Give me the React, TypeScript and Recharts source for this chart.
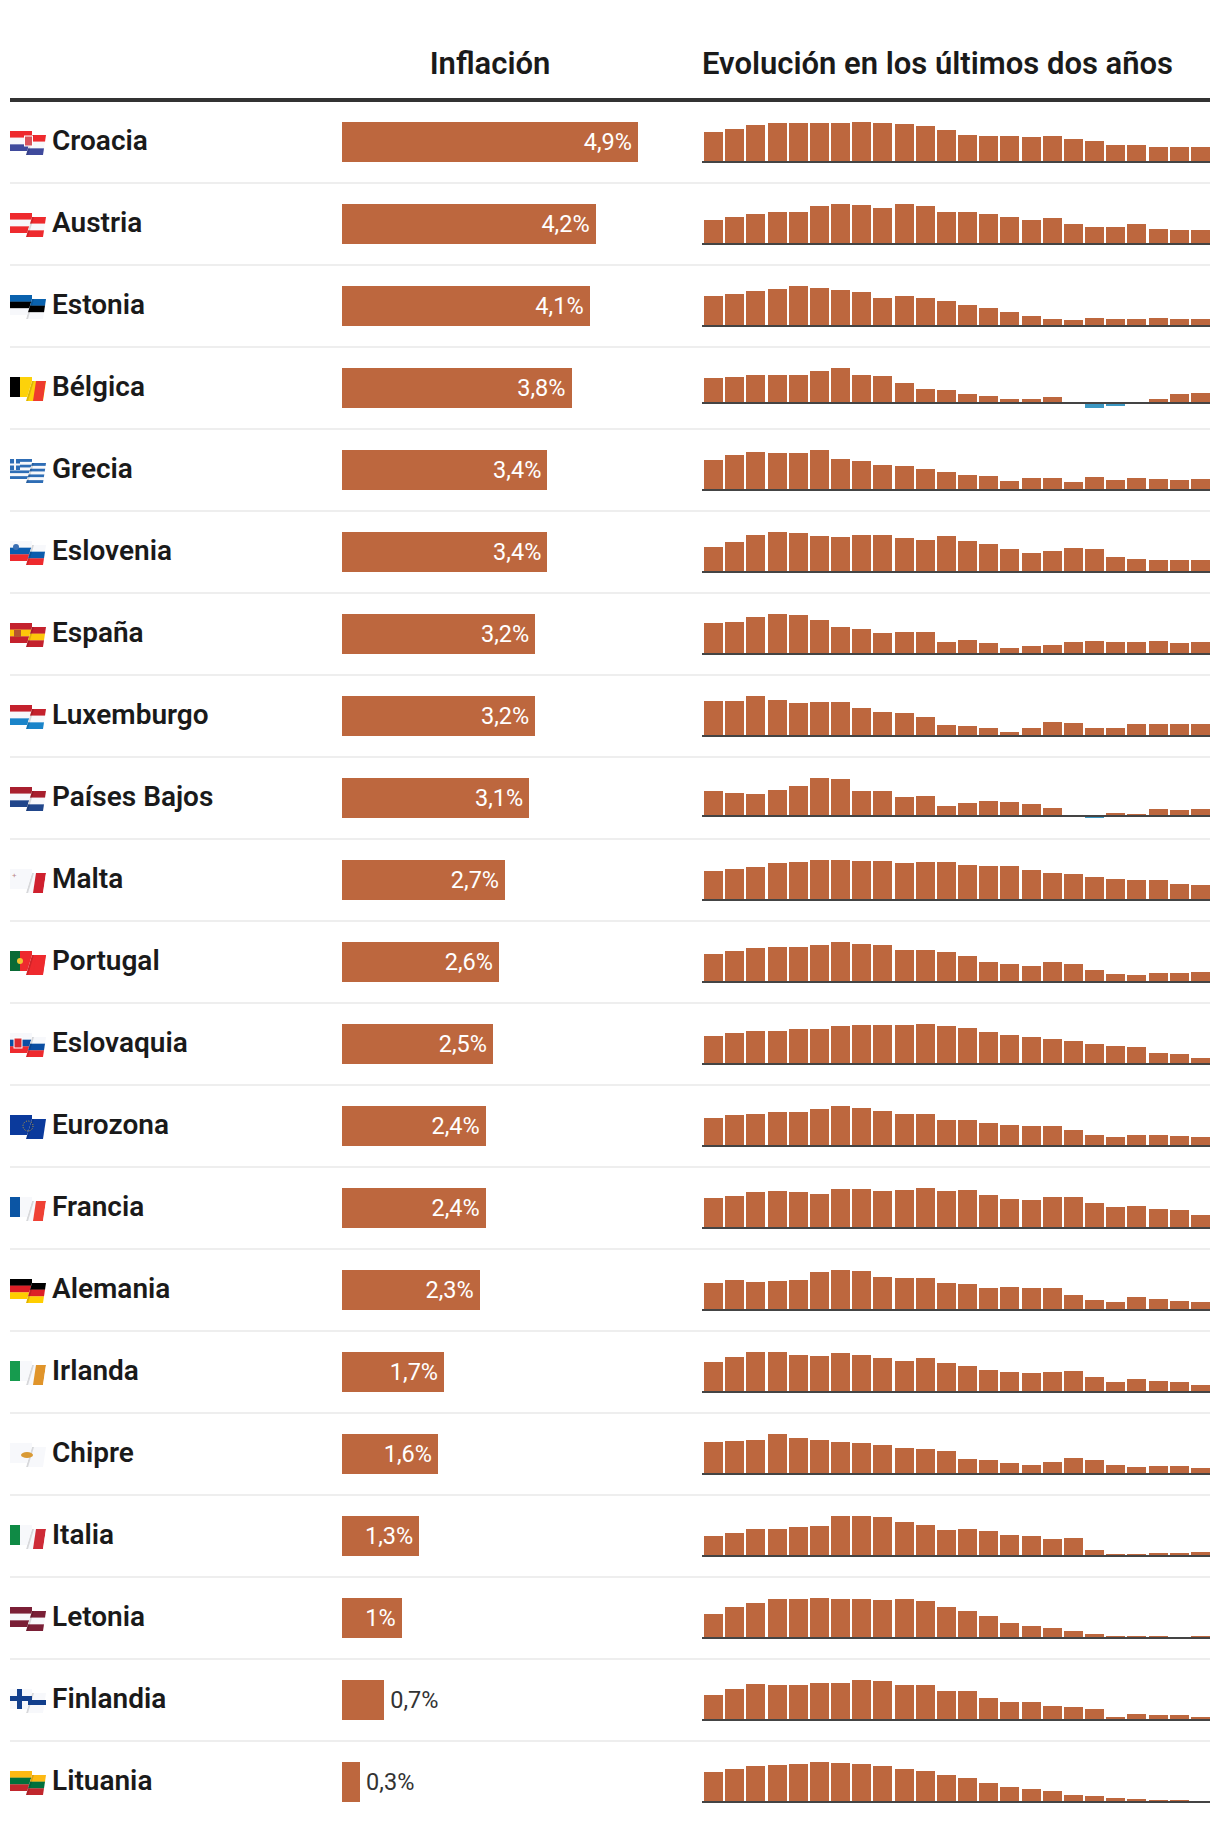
import { Bar, BarChart, Cell, LabelList, ReferenceLine, XAxis, YAxis } from "recharts";

const countries = ["Croacia", "Austria", "Estonia", "Bélgica", "Grecia", "Eslovenia", "España", "Luxemburgo", "Países Bajos", "Malta", "Portugal", "Eslovaquia", "Eurozona", "Francia", "Alemania", "Irlanda", "Chipre", "Italia", "Letonia", "Finlandia", "Lituania"];
const latest = [4.9, 4.2, 4.1, 3.8, 3.4, 3.4, 3.2, 3.2, 3.1, 2.7, 2.6, 2.5, 2.38, 2.38, 2.28, 1.69, 1.59, 1.28, 0.99, 0.7, 0.3];

// ultimos 24 meses por pais
const croacia = [9.8, 10.8, 12.1, 12.7, 12.7, 12.7, 12.7, 13.1, 12.7, 12.4, 11.8, 10.5, 8.8, 8.5, 8.5, 8.2, 8.5, 7.5, 6.9, 5.6, 5.6, 4.9, 4.9, 4.9];
const austria = [7.2, 8.1, 9, 9.6, 9.6, 11.4, 12, 11.7, 10.8, 12, 11.4, 9.6, 9.6, 9, 8.1, 7.2, 7.8, 6, 5.1, 5.1, 6, 4.5, 4.2, 4.2];
const estonia = [17.6, 18.7, 20.5, 21.7, 23.4, 22.3, 21.1, 19.9, 16.4, 17.6, 16.4, 14.6, 12.3, 10.5, 8.2, 5.9, 4.1, 3.5, 4.7, 4.1, 4.1, 4.7, 4.1, 4.1];
const belgica = [9.5, 9.9, 10.6, 10.6, 10.6, 12.2, 13.3, 10.6, 10.3, 7.6, 5.3, 4.9, 3.4, 2.7, 1.5, 1.5, 2.3, 0, -1.9, -1.1, 0, 1.5, 3.4, 3.8];
const grecia = [9.3, 10.8, 11.7, 11.4, 11.4, 12.4, 9.6, 9, 7.7, 7.4, 6.5, 5.6, 4.6, 4.3, 2.8, 3.7, 3.7, 2.5, 4, 3.1, 3.7, 3.4, 3.1, 3.4];
const eslovenia = [7.1, 8.5, 10.5, 11.3, 11, 10.2, 9.9, 10.5, 10.5, 9.6, 9.1, 10.2, 8.8, 7.9, 6.5, 5.4, 5.9, 6.8, 6.5, 4.2, 3.7, 3.4, 3.4, 3.4];
const espana = [8.3, 8.5, 9.9, 10.7, 10.4, 9.1, 7.2, 6.7, 5.6, 5.9, 5.9, 3.2, 3.7, 2.9, 1.6, 2.1, 2.4, 3.2, 3.5, 3.2, 3.2, 3.5, 2.9, 3.2];
const luxemburgo = [9.3, 9.3, 10.7, 9.6, 8.8, 9.1, 9.1, 7.5, 6.4, 6.1, 5.1, 2.9, 2.7, 2.1, 1.1, 2.1, 3.7, 3.5, 2.1, 2.1, 3.2, 3.2, 3.2, 3.2];
const paisesBajos = [11.1, 10.2, 9.7, 11.5, 13.3, 16.8, 16.4, 11.1, 11.1, 8.4, 8.9, 4.4, 5.8, 6.6, 6.2, 5.3, 3.5, 0, -0.9, 1.3, 0.9, 3.1, 2.7, 3.1];
const malta = [5.2, 5.6, 5.9, 6.7, 6.8, 7.2, 7.2, 7, 7, 6.7, 6.8, 6.8, 6.3, 6.1, 6.1, 5.4, 4.9, 4.7, 4.1, 3.8, 3.6, 3.6, 2.9, 2.7];
const portugal = [7.3, 8.1, 8.8, 9.1, 9.1, 9.6, 10.4, 9.9, 9.6, 8.3, 8.3, 7.8, 6.8, 5.2, 4.7, 4.2, 5.2, 4.7, 3.1, 2.1, 1.8, 2.3, 2.3, 2.6];
const eslovaquia = [11.7, 12.9, 13.8, 13.8, 14.6, 14.6, 15.8, 16.3, 16.3, 16.3, 16.7, 15.8, 15, 13.3, 12.1, 11.3, 10.4, 9.6, 8.3, 7.5, 7.1, 4.6, 4.2, 2.5];
const eurozona = [7.5, 8.3, 8.5, 9.1, 9.1, 9.9, 10.7, 10.1, 9.3, 8.5, 8.5, 6.9, 6.9, 6.1, 5.6, 5.3, 5.3, 4.3, 2.9, 2.4, 2.9, 2.9, 2.7, 2.4];
const francia = [5.5, 5.9, 6.7, 6.8, 6.7, 6.3, 7.2, 7.2, 6.8, 7, 7.4, 6.8, 7, 6.1, 5.4, 5.2, 5.7, 5.7, 4.6, 3.9, 4.1, 3.5, 3.3, 2.4];
const alemania = [7.8, 8.6, 8.1, 8.3, 8.6, 10.9, 11.5, 11.2, 9.5, 9.2, 9.2, 7.8, 7.5, 6.3, 6.6, 6.3, 6.3, 4.3, 2.9, 2.3, 3.7, 3.2, 2.6, 2.3];
const irlanda = [7.3, 8.5, 9.7, 9.7, 9, 8.7, 9.5, 9, 8.3, 7.5, 8.3, 7, 6.3, 5.3, 4.9, 4.6, 4.9, 5.1, 3.6, 2.4, 3.2, 2.7, 2.4, 1.7];
const chipre = [8.5, 8.8, 9.1, 10.7, 9.6, 9.1, 8.5, 8.3, 7.7, 6.9, 6.7, 6.1, 4, 3.7, 2.9, 2.4, 3.2, 4.3, 3.7, 2.4, 1.9, 2.1, 2.1, 1.6];
const italia = [6.5, 7.5, 8.8, 8.8, 9.4, 9.8, 13, 13, 12.7, 11.1, 10.1, 8.5, 8.8, 8.1, 6.8, 6.5, 5.5, 5.9, 2, 0.7, 0.7, 1, 1, 1.3];
const letonia = [13.2, 17, 19.3, 21.5, 21.5, 22, 21.5, 21.5, 20.9, 21.5, 20.4, 17.1, 14.9, 12.1, 8.3, 6.6, 5.5, 3.9, 2.2, 1.1, 1.1, 1.1, 0.4, 1];
const finlandia = [5.8, 7.2, 8.4, 8.2, 8.2, 8.6, 8.6, 9.3, 9.1, 8.2, 8.2, 6.8, 6.8, 5.1, 4.2, 4.2, 3.3, 3, 2.6, 0.7, 1.4, 1.2, 1.2, 0.7];
const lituania = [16.8, 18.5, 20.2, 20.7, 21.3, 22.4, 21.8, 21.3, 20.2, 18.5, 17.4, 15.1, 13.4, 10.6, 8.4, 7.3, 6.2, 3.9, 3.4, 2.2, 1.7, 1.1, 1.1, 0.3];

const history = [croacia, austria, estonia, belgica, grecia, eslovenia, espana, luxemburgo, paisesBajos, malta, portugal, eslovaquia, eurozona, francia, alemania, irlanda, chipre, italia, letonia, finlandia, lituania];

const FONT = "Roboto, sans-serif";
const ORANGE = "#bd673e";
const BLUE = "#3b97c2";
const ROW_TOP = 122;
const ROW_STEP = 82;

// banderas: franjas horizontales (h) o verticales (v) y un emblema pequeno
const R = "#ee2a2e";
const W = "#f7f8fb";
const flagStripes: Record<string, { h?: string[]; v?: string[]; mark?: string }> = {
  Croacia: { h: [R, W, "#3f4a9c"], mark: "hr" },
  Austria: { h: [R, W, R] },
  Estonia: { h: ["#0a62ae", "#000000", W] },
  "Bélgica": { v: ["#000000", "#fdd20a", "#ee3b2e"] },
  Grecia: { h: ["#2e6db5", W, "#2e6db5", W, "#2e6db5", W, "#2e6db5"], mark: "gr" },
  Eslovenia: { h: [W, "#0b5cad", R], mark: "si" },
  "España": { h: ["#c4212d", "#fdc60a", "#c4212d"], mark: "es" },
  Luxemburgo: { h: ["#c4212d", W, "#1a84c9"] },
  "Países Bajos": { h: ["#a81f2e", W, "#21468b"] },
  Malta: { v: [W, W, "#cf202e"], mark: "mt" },
  Portugal: { v: ["#0a6a36", R, R], mark: "pt" },
  Eslovaquia: { h: [W, "#0b4ea2", R], mark: "sk" },
  Eurozona: { h: ["#0b3a9c"], mark: "eu" },
  Francia: { v: ["#0b55a4", W, "#ef4135"] },
  Alemania: { h: ["#000000", "#dd1f26", "#ffce00"] },
  Irlanda: { v: ["#169b4e", W, "#e0942a"] },
  Chipre: { h: [W], mark: "cy" },
  Italia: { v: ["#0f8a45", W, "#ce2b37"] },
  Letonia: { h: ["#7a1f36", W, "#7a1f36"] },
  Finlandia: { h: [W], mark: "fi" },
  Lituania: { h: ["#fdb913", "#00703c", "#c1272d"] },
};

function Flag({ name, index }: { name: string; index: number }) {
  const f = flagStripes[name];
  const leftId = `fl${index}`;
  const rightId = `fr${index}`;
  const hBands = (stripes: string[], top: number) =>
    stripes.map((c, i) => (
      <rect key={i} x={0} y={top + (i * 20) / stripes.length} width={36} height={20 / stripes.length + 0.2} fill={c} />
    ));
  return (
    <svg width={36} height={24} style={{ position: "absolute", left: 10, top: 9 + ROW_TOP + index * ROW_STEP }}>
      <defs>
        <clipPath id={leftId}><polygon points="0,0 22,0 22,4 17.2,20 0,20" /></clipPath>
        <clipPath id={rightId}><polygon points="22,4 36,4 33,24 16,24" /></clipPath>
      </defs>
      <g clipPath={`url(#${leftId})`}>
        {f.h && hBands(f.h, 0)}
        {f.v && (
          <>
            <rect x={0} y={0} width={10} height={20} fill={f.v[0]} />
            <rect x={10} y={0} width={12} height={20} fill={f.v[1]} />
          </>
        )}
      </g>
      <g clipPath={`url(#${rightId})`}>
        {f.h && hBands(f.h, 4)}
        {f.v && (
          <>
            <rect x={14} y={4} width={22} height={20} fill={f.v[1]} />
            <polygon points="26,4 36,4 33,24 23,24" fill={f.v[2]} />
          </>
        )}
        <polygon points="22,4 24,4 18,24 16,24" fill="#000000" opacity={0.13} />
      </g>
      {f.mark === "hr" && <rect x={14.5} y={5} width={8} height={10} fill="#d9545c" stroke="#fff" strokeWidth={1} />}
      {f.mark === "gr" && (
        <>
          <rect x={0} y={0} width={10} height={11} fill="#2e6db5" />
          <rect x={4} y={0} width={2} height={11} fill={W} />
          <rect x={0} y={4.5} width={10} height={2} fill={W} />
        </>
      )}
      {f.mark === "si" && <circle cx={6} cy={6} r={3} fill="#3b6fb3" />}
      {f.mark === "es" && <rect x={4} y={7} width={7} height={7} fill="#b5562f" />}
      {f.mark === "mt" && <text x={2} y={9} fontSize={8} fill="#b88" fontFamily={FONT}>+</text>}
      {f.mark === "pt" && <circle cx={10} cy={10} r={3} fill="#f0c430" />}
      {f.mark === "sk" && <rect x={4} y={5} width={8} height={10} fill="#dd2a30" stroke="#fff" strokeWidth={1} />}
      {f.mark === "eu" && <circle cx={18} cy={11} r={5} fill="none" stroke="#d6a92a" strokeWidth={1} strokeDasharray="1 1.6" />}
      {f.mark === "cy" && <ellipse cx={17} cy={12} rx={6} ry={3} fill="#d99a35" />}
      {f.mark === "fi" && (
        <>
          <rect x={0} y={7} width={22} height={5} fill="#123f8c" />
          <rect x={18} y={11} width={18} height={5} fill="#123f8c" />
          <rect x={7} y={0} width={5} height={20} fill="#123f8c" />
        </>
      )}
    </svg>
  );
}

function InflationBar({ value }: { value: number }) {
  const data = [{ value }];
  const inside = value >= 0.95;
  return (
    <BarChart width={360} height={40} data={data} layout="vertical" margin={{ top: 0, right: 0, bottom: 0, left: 0 }} barCategoryGap={0}>
      <XAxis type="number" hide domain={[0, 360 / 60.4]} />
      <YAxis type="category" hide />
      <Bar dataKey="value" fill={ORANGE} isAnimationActive={false} shapeRendering="crispEdges">
        <LabelList
          dataKey="value"
          position={inside ? "insideRight" : "right"}
          offset={6}
          formatter={(v: number) => `${String(Math.round(v * 10) / 10).replace(".", ",")}%`}
          fill={inside ? "#ffffff" : "#333333"}
          style={{ fontFamily: FONT, fontSize: 23.5 }}
        />
      </Bar>
    </BarChart>
  );
}

// la linea base arranca 1px antes que la banda de las barras
function BaseLine(props: any) {
  return <line x1={props.x1 - 1} x2={props.x2 - 1} y1={props.y1} y2={props.y2} stroke="#444444" strokeWidth={2} />;
}

function Evolution({ values }: { values: number[] }) {
  const data = values.map((value, month) => ({ month, value }));
  const domain = [Math.min(0, ...values), Math.max(...values)];
  return (
    <BarChart width={509} height={44} data={data} margin={{ top: 0, right: 0, bottom: 4, left: 1 }} barCategoryGap="5%">
      <XAxis dataKey="month" hide />
      <YAxis hide domain={domain} />
      <Bar dataKey="value" isAnimationActive={false} shapeRendering="crispEdges">
        {data.map((d) => <Cell key={d.month} fill={d.value < 0 ? BLUE : ORANGE} />)}
      </Bar>
      <ReferenceLine y={0} shape={BaseLine} />
    </BarChart>
  );
}

export default function App() {
  const header = { position: "absolute", top: 46, lineHeight: "36px", fontSize: 31, fontWeight: 600, color: "#1a1a1a", whiteSpace: "nowrap" } as const;
  return (
    <div style={{ position: "absolute", left: 0, top: 0, width: 1220, height: 1832, background: "#ffffff", fontFamily: FONT, overflow: "hidden" }}>
      <div style={{ ...header, left: 342, width: 296, textAlign: "center" }}>Inflación</div>
      <div style={{ ...header, left: 702 }}>Evolución en los últimos dos años</div>
      <div style={{ position: "absolute", left: 10, width: 1200, top: 98, height: 4, background: "#333333" }} />
      {countries.map((name, i) => {
        const top = ROW_TOP + i * ROW_STEP;
        return (
          <div key={name}>
            <Flag name={name} index={i} />
            <div style={{ position: "absolute", left: 52, top: top + 1, lineHeight: "36px", fontSize: 28, fontWeight: 600, color: "#1a1a1a", whiteSpace: "nowrap" }}>{name}</div>
            <div style={{ position: "absolute", left: 342, top }}>
              <InflationBar value={latest[i]} />
            </div>
            <div style={{ position: "absolute", left: 702, top }}>
              <Evolution values={history[i]} />
            </div>
            {i < countries.length - 1 && (
              <div style={{ position: "absolute", left: 10, width: 1200, top: top + 60, height: 2, background: "#eeeeee" }} />
            )}
          </div>
        );
      })}
    </div>
  );
}
